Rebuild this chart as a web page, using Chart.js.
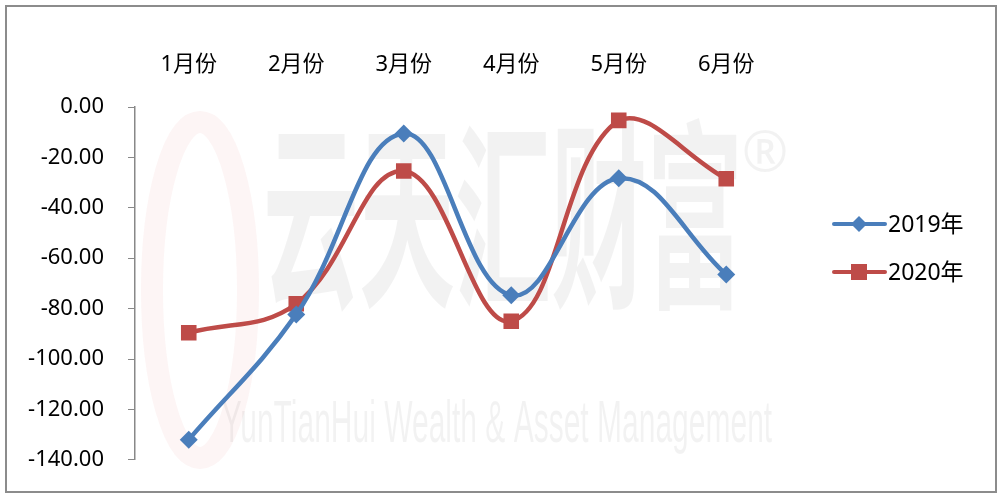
<!DOCTYPE html>
<html>
<head>
<meta charset="utf-8">
<script src="https://cdn.jsdelivr.net/npm/chart.js@4/dist/chart.umd.min.js"></script>
<style>
html,body{margin:0;padding:0;background:#fff;}
#wrap{position:relative;width:1000px;height:497px;}
#frame{position:absolute;left:5px;top:5px;width:988px;height:484px;border:2px solid #8c8c8c;box-sizing:content-box;}
canvas{position:absolute;left:0;top:0;}
</style>
</head>
<body>
<div id="wrap">
<div id="frame"></div>
<canvas id="lineChart" width="1000" height="497"></canvas>
</div>
<script>
// months along the top axis
const months = ["1月份","2月份","3月份","4月份","5月份","6月份"];
const data2019 = [-132.0,-82.3,-10.5,-74.7,-28.3,-66.5];
const data2020 = [-89.6,-78.1,-25.4,-85.0,-5.3,-28.5];
const yTicks = [0,-20,-40,-60,-80,-100,-120,-140];

const FONT = "'Noto Sans','Noto Sans CJK SC',sans-serif";
const BLUE = "#4a7ebb";
const RED = "#be4b48";

// faint watermark behind the lines
const watermark = {
    id:"watermark",
    beforeDatasetsDraw(chart){
        const ctx = chart.ctx;
        ctx.save();
        ctx.strokeStyle = "rgba(220,60,60,0.05)";
        ctx.lineWidth = 22;
        ctx.beginPath();
        ctx.ellipse(200,290,48,168,0,0,Math.PI*2);
        ctx.stroke();
        ctx.fillStyle = "rgba(0,0,0,0.05)";
        ctx.textAlign = "center";
        ctx.textBaseline = "middle";
        ctx.save();
        ctx.translate(503,215);
        ctx.scale(1,2.1);
        ctx.font = "bold 96px 'Noto Sans CJK SC'";
        ctx.fillText("云天汇财富",0,0);
        ctx.restore();
        ctx.font = "56px 'Noto Sans'";
        ctx.fillText("®",765,155);
        ctx.save();
        ctx.translate(497,425);
        ctx.scale(0.75,1.5);
        ctx.font = "40px 'Liberation Sans Narrow','Liberation Sans'";
        ctx.fillText("YunTianHui Wealth & Asset Management",0,0);
        ctx.restore();
        ctx.restore();
    }
};

// Excel-style legend: line with marker, on the right
const sideLegend = {
    id:"sideLegend",
    afterDraw(chart){
        const ctx = chart.ctx;
        ctx.save();
        chart.data.datasets.forEach((ds,i)=>{
            const y = 224 + i*48;
            ctx.strokeStyle = ds.borderColor;
            ctx.lineWidth = 4;
            ctx.lineCap = "round";
            ctx.beginPath();
            ctx.moveTo(834,y);
            ctx.lineTo(885,y);
            ctx.stroke();
            ctx.fillStyle = ds.borderColor;
            ctx.beginPath();
            if(ds.pointStyle==="rectRot"){
                ctx.moveTo(859,y-8);ctx.lineTo(867,y);ctx.lineTo(859,y+8);ctx.lineTo(851,y);
            }else{
                ctx.rect(851,y-8,16,16);
            }
            ctx.fill();
            ctx.fillStyle = "#000";
            ctx.font = "23px "+FONT;
            ctx.textAlign = "left";
            ctx.textBaseline = "middle";
            ctx.fillText(ds.label,888,y+1);
        });
        ctx.restore();
    }
};

new Chart(document.getElementById("lineChart").getContext("2d"),{
    type:"line",
    data:{
        labels:months,
        datasets:[{
            label:"2019年",
            data:data2019,
            borderColor:BLUE,
            backgroundColor:BLUE,
            borderWidth:4.5,
            pointStyle:"rectRot",
            pointRadius:9,
            pointBorderWidth:0,
            tension:0.4
        },{
            label:"2020年",
            data:data2020,
            borderColor:RED,
            backgroundColor:RED,
            borderWidth:4.5,
            pointStyle:"rect",
            pointRadius:11,
            pointBorderWidth:0,
            tension:0.4
        }]
    },
    options:{
        responsive:false,
        animation:false,
        layout:{padding:{left:0,right:220,top:0,bottom:36}},
        plugins:{legend:{display:false},tooltip:{enabled:false}},
        scales:{
            x:{
                position:"top",
                offset:true,
                grid:{display:false,drawTicks:false},
                border:{display:false},
                ticks:{color:"#000",font:{family:FONT,size:22},padding:29,maxRotation:0},
                afterFit(scale){scale.height = 107;}
            },
            y:{
                min:-140,
                max:0,
                grid:{drawOnChartArea:false,drawTicks:true,tickLength:7,color:"#888"},
                border:{display:true,color:"#888",width:1.5},
                afterBuildTicks(scale){scale.ticks = yTicks.map(v=>({value:v}));},
                ticks:{
                    color:"#000",
                    font:{family:FONT,size:22},
                    padding:24,
                    callback:v=>v.toFixed(2)
                },
                afterFit(scale){scale.width = 135;}
            }
        }
    },
    plugins:[watermark,sideLegend]
});
</script>
</body>
</html>
